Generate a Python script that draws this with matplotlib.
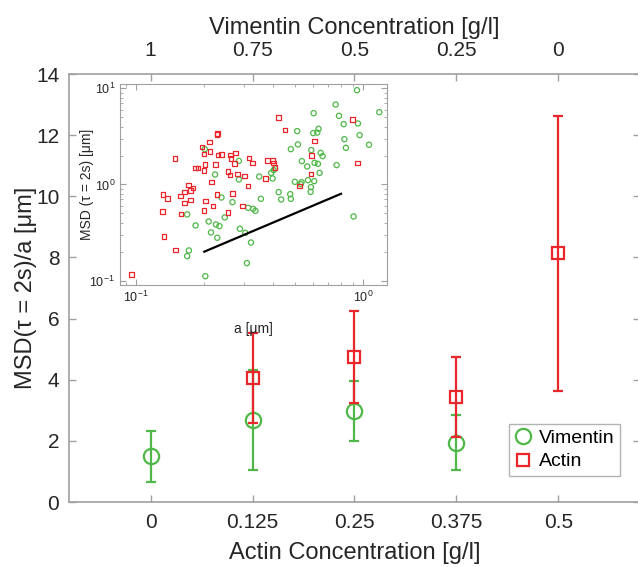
import matplotlib
matplotlib.use("Agg")
import matplotlib.pyplot as plt
from matplotlib.lines import Line2D

plt.rcParams['font.family'] = ['Liberation Sans', 'DejaVu Sans']
plt.rcParams['mathtext.fontset'] = 'custom'
plt.rcParams['mathtext.rm'] = 'Liberation Sans'

# main panel
actin_conc = [0, 0.125, 0.25, 0.375, 0.5]
vimentin_conc = [1, 0.75, 0.5, 0.25, 0]

vim_x = [0, 0.125, 0.25, 0.375]
vim_msd = [1.50, 2.68, 2.99, 1.94]
vim_lo = [0.65, 1.05, 2.00, 1.05]
vim_hi = [2.33, 4.32, 3.96, 2.85]

act_x = [0.125, 0.25, 0.375, 0.5]
act_msd = [4.06, 4.73, 3.44, 8.14]
act_lo = [2.58, 3.24, 2.14, 3.63]
act_hi = [5.53, 6.25, 4.75, 12.63]

# inset: MSD vs particle size
vim_a = [0.201, 0.223, 0.238, 0.168, 0.183, 0.209, 0.214, 0.225, 0.233, 0.228,
         0.171, 0.168, 0.202, 0.284, 0.284, 0.266, 0.246, 0.287, 0.303, 0.321,
         0.308, 0.312, 0.941, 0.758, 1.18, 0.606, 0.784, 0.822, 0.95, 0.637,
         0.513, 0.604, 0.629, 0.967, 0.828, 0.517, 1.063, 0.841, 0.481, 0.592,
         0.651, 0.664, 0.538, 0.612, 0.633, 0.568, 0.765, 0.410, 0.404, 0.394,
         0.349, 0.400, 0.644, 0.501, 0.536, 0.532, 0.572, 0.610, 0.590, 0.588,
         0.425, 0.478, 0.481, 0.436, 0.355, 0.328, 0.336, 0.909]
vim_m = [2.33, 1.27, 0.732, 0.488, 0.375, 0.412, 0.317, 0.384, 0.369, 0.279,
         0.206, 0.18, 0.111, 1.76, 1.127, 0.655, 0.454, 0.346, 0.314, 0.249,
         0.152, 0.572, 9.57, 6.79, 5.65, 5.52, 5.18, 4.24, 4.31, 3.79,
         3.59, 3.42, 3.47, 3.26, 2.96, 2.61, 2.59, 2.41, 2.33, 2.28,
         2.13, 1.97, 1.75, 1.68, 1.64, 1.54, 1.59, 1.47, 1.41, 1.32,
         1.21, 1.155, 1.32, 1.066, 1.057, 1.008, 1.11, 1.083, 0.938, 0.839,
         0.832, 0.793, 0.709, 0.698, 0.709, 0.558, 0.532, 0.465]

act_a = [0.0954, 0.1316, 0.1375, 0.131, 0.1329, 0.1486, 0.149, 0.157, 0.158, 0.164,
         0.164, 0.170, 0.174, 0.174, 0.1784, 0.183, 0.1877, 0.1955, 0.1995, 0.2113,
         0.212, 0.2277, 0.229, 0.230, 0.238, 0.201, 0.199, 0.2246, 0.215, 0.227,
         0.202, 0.1995, 0.218, 0.261, 0.262, 0.275, 0.272, 0.2546, 0.259, 0.280,
         0.3015, 0.266, 0.2546, 0.2945, 0.315, 0.327, 0.312, 0.4246, 0.453, 0.612,
         0.592, 0.380, 0.3995, 0.4035, 0.409, 0.372, 0.590, 0.526, 0.897, 0.947]
act_m = [0.115, 0.781, 0.715, 0.524, 0.288, 1.85, 0.209, 0.756, 0.495, 0.839,
         0.639, 0.99, 0.866, 0.687, 0.916, 1.49, 1.49, 2.46, 2.07, 2.76,
         2.19, 3.31, 3.39, 2.02, 2.05, 1.61, 1.40, 1.61, 1.06, 0.787,
         0.676, 0.537, 0.595, 2.03, 1.85, 2.13, 1.65, 1.365, 1.26, 1.28,
         1.23, 0.806, 0.512, 0.595, 1.88, 1.67, 0.961, 4.98, 3.70, 2.84,
         2.00, 1.78, 1.78, 1.67, 1.50, 1.155, 1.29, 0.961, 4.74, 1.68]

guide_a = [0.2, 0.8]
guide_m = [0.2, 0.8]

green = '#4fb848'
red = '#e8262c'
spine_c = '#a0a0a0'
text_c = '#262626'

fig = plt.figure(figsize=(6.38, 5.67), dpi=100)
ax = fig.add_axes([69 / 638, 65 / 567, 571 / 638, 428 / 567])

ax.errorbar(vim_x, vim_msd,
            yerr=[[m - l for m, l in zip(vim_msd, vim_lo)],
                  [h - m for m, h in zip(vim_msd, vim_hi)]],
            fmt='o', ms=11, mfc='none', mec=green, mew=1.6, ecolor=green,
            elinewidth=1.6, capsize=3.5, capthick=1.6, zorder=3)
ax.errorbar(act_x, act_msd,
            yerr=[[m - l for m, l in zip(act_msd, act_lo)],
                  [h - m for m, h in zip(act_msd, act_hi)]],
            fmt='s', ms=9, mfc='none', mec=red, mew=1.6, ecolor=red,
            elinewidth=1.6, capsize=3.5, capthick=1.6, zorder=4)

ax.set_xlim(-0.1, 0.6)
ax.set_ylim(0, 14)
ax.set_xticks(actin_conc)
ax.set_xticklabels([f'{v:g}' for v in actin_conc])
ax.set_yticks(range(0, 15, 2))
ax.tick_params(direction='in', length=5, width=1, color=spine_c,
               labelcolor=text_c, labelsize=15, right=True, pad=7)
ax.tick_params(axis='x', pad=8)
for s in ax.spines.values():
    s.set_color(spine_c)
    s.set_linewidth(1.2)
ax.set_xlabel('Actin Concentration [g/l]', fontsize=17, color=text_c, labelpad=7)
ax.set_ylabel('MSD(τ = 2s)/a [μm]', fontsize=17, color=text_c, labelpad=-1)

top = ax.twiny()
top.set_xlim(ax.get_xlim())
top.set_xticks(actin_conc)
top.set_xticklabels([f'{v:g}' for v in vimentin_conc])
top.tick_params(direction='in', length=5, width=1, color=spine_c,
                labelcolor=text_c, labelsize=15, pad=10)
for s in top.spines.values():
    s.set_visible(False)
top.set_xlabel('Vimentin Concentration [g/l]', fontsize=17, color=text_c, labelpad=5)

handles = [Line2D([], [], ls='none', marker='o', ms=11, mfc='none', mec=green, mew=1.6),
           Line2D([], [], ls='none', marker='s', ms=9, mfc='none', mec=red, mew=1.6)]
leg = ax.legend(handles, ['Vimentin', 'Actin'], loc='lower right',
                bbox_to_anchor=(0.965, 0.06), fontsize=14, fancybox=False,
                handlelength=0.8, handletextpad=0.4, borderpad=0.3,
                labelspacing=0.3, borderaxespad=0)
leg.get_frame().set_edgecolor(spine_c)
leg.get_frame().set_linewidth(1.0)

# inset
ins = fig.add_axes([120 / 638, (567 - 285) / 567, 267.3 / 638, 201 / 567])
ins.scatter(vim_a, vim_m, s=14, marker='o', facecolors='none', edgecolors=green,
            linewidths=0.9, zorder=3)
ins.scatter(act_a, act_m, s=11, marker='s', facecolors='none', edgecolors=red,
            linewidths=0.9, zorder=3)
ins.plot(guide_a, guide_m, color='black', lw=1.6, zorder=4)
ins.set_xscale('log')
ins.set_yscale('log')
ins.set_xlim(0.085, 1.28)
ins.set_ylim(0.09, 11.1)
ins.tick_params(which='both', direction='in', color=spine_c, top=True, right=True,
                labelcolor=text_c, labelsize=9)
ins.tick_params(which='major', length=4)
ins.tick_params(which='minor', length=2)
for s in ins.spines.values():
    s.set_color(spine_c)
ins.set_xlabel('a [μm]', fontsize=10, color=text_c, labelpad=12)
ins.set_ylabel('MSD (τ = 2s) [μm]', fontsize=10, color=text_c, labelpad=-3)

fig.savefig('out.png', dpi=100, facecolor='white')
